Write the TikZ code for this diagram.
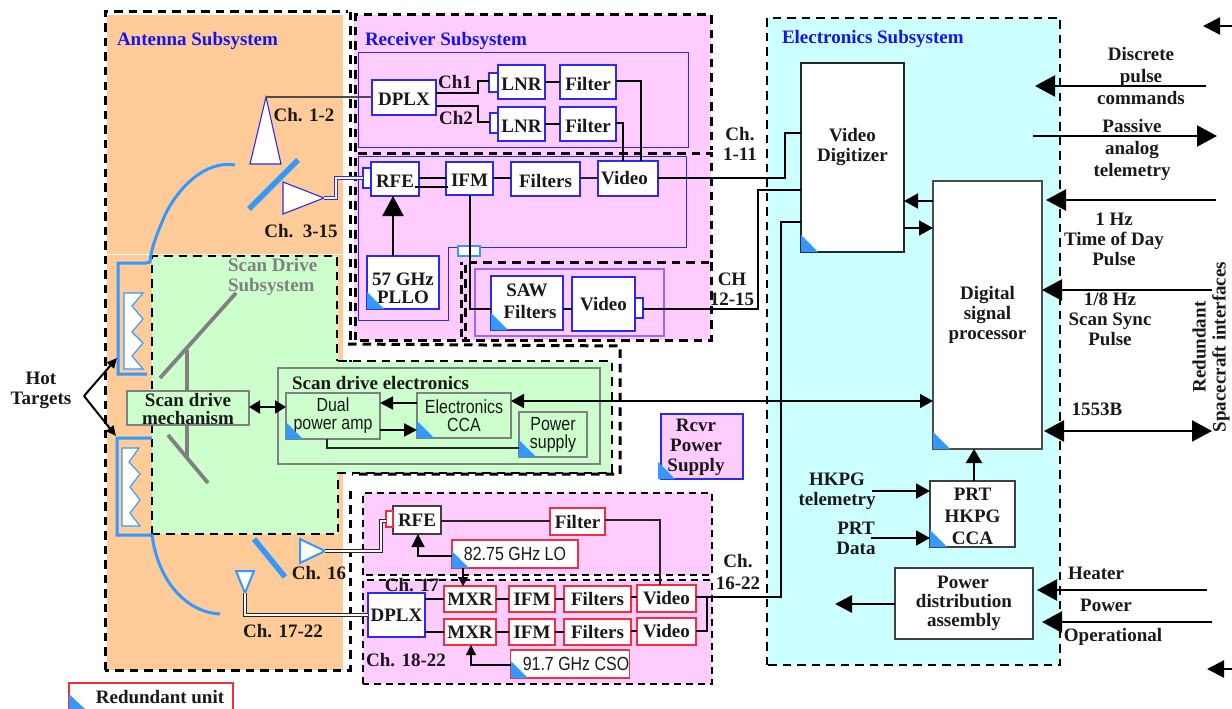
\documentclass[tikz,border=0pt]{standalone}
\usepackage{fontspec}
\setmainfont{Liberation Serif}
\newfontfamily\narrowfont[FakeStretch=0.84]{Liberation Sans}
\usetikzlibrary{arrows.meta}
\definecolor{orangebg}{HTML}{FFCC99}
\definecolor{pinkbg}{HTML}{FFCCFF}
\definecolor{greenbg}{HTML}{CCFFCC}
\definecolor{cyanbg}{HTML}{CCFFFF}
\definecolor{skyb}{HTML}{3399FF}
\definecolor{lilac}{HTML}{9966FF}
\definecolor{bluet}{HTML}{1414F0}
\definecolor{blueb}{HTML}{2A2AF0}
\definecolor{redb}{HTML}{F03040}
\definecolor{greyb}{HTML}{808080}
\tikzset{
  x=1pt,y=-1pt,
  lab/.style={font=\fontsize{19}{20}\selectfont\bfseries,inner sep=0pt,outer sep=0pt,align=center,text=black!90},
  title/.style={lab,text=bluet},
  sanslab/.style={font=\fontsize{19}{18}\narrowfont,align=center,text=black!90},
  dbox/.style={draw=black,line width=3pt,dash pattern=on 8.5pt off 6pt},
  dboxthin/.style={draw=black,line width=2.2pt,dash pattern=on 7pt off 5pt},
  bluebox/.style={draw=blueb,line width=1.2pt,fill=white,lab},
  redbox/.style={draw=redb,line width=1.3pt,fill=white,lab},
  darkbox/.style={draw=black!75,line width=1.3pt,fill=white,lab},
  greybox/.style={draw=greyb,line width=1.4pt,fill=greenbg,sanslab},
  wire/.style={draw=black,line width=2.4pt},
  thinwire/.style={draw=black!85,line width=1.5pt},
  bigarrow/.style={draw=black,line width=2.2pt,-{Triangle[length=20pt,width=21pt]}},
  midarrow/.style={draw=black,line width=1.8pt,-{Triangle[length=14pt,width=15pt]}},
  smallarrow/.style={draw=black,line width=1.4pt,-{Triangle[length=10pt,width=11pt]}},
  mirror/.style={draw=skyb,line width=5.5pt},
  arcline/.style={draw=skyb,line width=3pt},
  scanpart/.style={draw=greyb,line width=3.8pt},
  horn/.style={draw=blueb,line width=1.1pt,fill=white},
  hornb/.style={draw=skyb,line width=2pt,fill=white},
  target/.style={draw=skyb,line width=1.1pt,fill=white},
  dualdark/.style={draw=black!85,line width=3.4pt},
  dualblue/.style={draw=blueb,line width=3.4pt},
  dualcore/.style={draw=white,line width=1.3pt},
}
\newcommand\blk[7]{%
  \pgfmathsetmacro\bw{#4-#2}\pgfmathsetmacro\bh{#5-#3}%
  \pgfmathsetmacro\bx{(#2+#4)/2}\pgfmathsetmacro\by{(#3+#5)/2}%
  \node[inner sep=0pt,outer sep=0pt,minimum width=\bw pt,minimum height=\bh pt,#6] (#1) at (\bx,\by) {#7};}
\newcommand\ctri[1]{\fill[skyb] ([yshift=17pt]#1.south west) -- (#1.south west) -- ([xshift=17pt]#1.south west) -- cycle;}
\newcommand\dn[2][2pt]{\raisebox{-#1}[\height][\depth]{#2}}
\begin{document}
\begin{tikzpicture}
\useasboundingbox (0,0) rectangle (1232,709);
% ---- backgrounds
\fill[orangebg] (107,15) rectangle (343,670);
\draw[white,line width=.8pt] (107,254) -- (343,254);
\draw[dbox] (105,670) -- (105,12) -- (348,12);
\draw[dbox] (350,12) -- (350,670) -- (105,670);
\fill[greenbg] (152,256) -- (338,256) -- (338,362) -- (612,362) -- (612,472) -- (338,472) -- (338,534) -- (152,534) -- cycle;
\draw[dbox,line width=2.4pt] (152,534) -- (152,256) -- (337,256) -- (337,361);
\draw[dbox,line width=2.4pt] (338,361) -- (612,361) -- (612,473) -- (338,473) -- (338,534) -- (152,534);
\fill[white] (345,342) rectangle (622,360);
\fill[white] (345,474) rectangle (622,490);
\fill[white] (613,345) rectangle (622,476);
\draw[dbox] (348,344) -- (620,346) -- (620,474) -- (352,474);
\fill[pinkbg] (354,15) rectangle (711,340);
\draw[dbox] (355,340) -- (355,15) -- (711,15) -- (711,150);
\draw[dbox] (358,153) -- (711,153) -- (711,262) -- (465,262) -- (465,340);
\draw[dbox,dash phase=6pt] (461,262) -- (461,340);
\draw[dbox] (711,262) -- (711,340) -- (355,340);
\fill[pinkbg] (363,493) rectangle (712,575);
\draw[dboxthin] (363,575) -- (363,493) -- (712,493) -- (712,575) -- cycle;
\fill[pinkbg] (363,580) rectangle (712,684);
\draw[dboxthin] (363,684) -- (363,580) -- (712,580) -- (712,684) -- cycle;
\fill[cyanbg] (768,18) rectangle (1060,665);
\draw[dbox,line width=2.4pt] (767,665) -- (767,18) -- (1060,18) -- (1060,665) -- cycle;
% ---- group outlines
\node[inner sep=0pt,minimum width=330pt,minimum height=94pt,draw=blueb,line width=1pt] (recvtop) at (523,100) {};
\draw[blueb,line width=1pt] (358,156) -- (686,156) -- (686,247) -- (448,247) -- (448,320) -- (358,320) -- cycle;
\blk{sawgroup}{475}{269}{664}{336}{draw=lilac,line width=2.2pt}{}
% ---- titles
\node[title,anchor=west] (tant) at (117,41) {Antenna Subsystem};
\node[title,anchor=west] (trec) at (365,41) {Receiver Subsystem};
\node[title,anchor=west] (tele) at (782,39) {Electronics Subsystem};
\node[lab,text=greyb,align=left,anchor=west] (tscan) at (228,277) {Scan Drive\\Subsystem};
% ---- receiver blocks
\blk{dplxA}{372}{80}{436}{115}{bluebox}{\dn{DPLX}}
\blk{lnrA}{498}{65}{545}{99}{bluebox}{\dn{LNR}}
\blk{lnrAi}{489}{73}{498}{92}{bluebox}{}
\blk{filtA}{560}{65}{616}{99}{bluebox}{\dn{Filter}}
\blk{lnrB}{498}{107}{545}{141}{bluebox}{\dn{LNR}}
\blk{lnrBi}{490}{113}{498}{133}{bluebox}{}
\blk{filtB}{560}{107}{616}{141}{bluebox}{\dn{Filter}}
\blk{rfeA}{371}{162}{419}{196}{bluebox}{\dn{RFE}}
\blk{rfeAi}{363}{168}{371}{188}{bluebox}{}
\blk{ifmA}{446}{162}{493}{195}{bluebox}{\dn{IFM}}
\blk{filtsA}{511}{162}{580}{196}{bluebox}{\dn{Filters}}
\blk{vidA}{598}{161}{658}{196}{bluebox}{\hspace*{-7pt}Video}
\blk{pllo}{367}{256}{439}{309}{bluebox}{\dn[6pt]{\parbox{70pt}{\centering\fontsize{19}{18}\selectfont 57 GHz\\PLLO}}}
\blk{split}{458}{246}{480}{256}{draw=skyb,fill=white,line width=1.4pt}{}
\blk{saw}{491}{276}{563}{330}{bluebox,font=\fontsize{19}{22}\selectfont\bfseries}{\raisebox{2pt}[\height][\depth]{\parbox{70pt}{\centering SAW\\\hspace*{6pt}Filters}}}
\blk{vidB}{572}{277}{635}{331}{bluebox}{Video}
\blk{vidBi}{635}{298}{643}{318}{bluebox}{}
\blk{rcvr}{661}{414}{743}{479}{draw=blueb,fill=pinkbg,line width=1.2pt}{}
\node[lab] (rcvrt) at (696,447) {Rcvr\\Power\\Supply};
% ---- electronics blocks
\blk{vdig}{801}{63}{904}{252}{darkbox,draw=black!85}{\raisebox{10.5pt}[\height][\depth]{\parbox{90pt}{\centering Video\\Digitizer}}}
\blk{dsp}{933}{181}{1042}{449}{darkbox,draw=black!70}{Digital\\signal\\processor}
\blk{prt}{930}{481}{1015}{547}{darkbox,font=\fontsize{19}{22}\selectfont\bfseries}{\dn{\parbox{80pt}{\centering PRT\\HKPG\\CCA}}}
\blk{pda}{895}{568}{1033}{639}{darkbox,font=\fontsize{19}{19}\selectfont\bfseries}{\hspace*{-2pt}Power\\distribution\\assembly}
% ---- bottom receiver blocks
\blk{rfeB}{393}{506}{441}{534}{darkbox}{RFE}
\blk{rfeBi}{386}{511}{393}{527}{redbox}{}
\blk{filtC}{550}{508}{605}{535}{redbox}{Filter}
\blk{lo}{452}{540}{578}{568}{redbox,sanslab}{82.75 GHz LO}
\blk{dplxB}{368}{593}{425}{637}{bluebox}{DPLX}
\blk{mxrA}{444}{586}{496}{612}{redbox}{MXR}
\blk{ifmB}{509}{586}{555}{612}{redbox}{IFM}
\blk{filtsB}{564}{586}{631}{612}{redbox}{Filters}
\blk{vidC}{637}{585}{696}{612}{redbox}{Video}
\blk{mxrB}{444}{619}{496}{645}{redbox}{MXR}
\blk{ifmC}{509}{619}{555}{645}{redbox}{IFM}
\blk{filtsC}{564}{619}{631}{645}{redbox}{Filters}
\blk{vidD}{637}{618}{696}{645}{redbox}{Video}
\blk{cso}{511}{650}{629}{678}{redbox,sanslab}{\hspace*{12pt}91.7 GHz CSO}
% ---- scan drive blocks
\blk{sde}{278}{368}{600}{464}{draw=greyb,line width=2pt}{}
\node[lab,anchor=west] (tsde) at (292,383) {Scan drive electronics};
\blk{amp}{286}{393}{380}{439}{greybox}{Dual\\power amp}
\blk{eca}{417}{393}{511}{438}{greybox}{Electronics\\CCA}
\blk{psu}{519}{412}{587}{457}{greybox}{Power\\supply}
% ---- reflectors, horns and targets
\draw[arcline] (235,165) .. controls (205,160) and (178,188) .. (165,215) .. controls (155,238) and (151,250) .. (150,262) -- (146,263) -- (118,263) -- (118,374) -- (147,374);
\draw[arcline] (152,438) -- (117,438) -- (117,535) -- (152,535) .. controls (158,580) and (185,612) .. (220,614);
\draw[mirror] (298,160) -- (249,209);
\draw[mirror] (254,539) -- (285,577);
\coordinate (hornAtip) at (266,97);
\draw[horn] (hornAtip) -- (281,164) -- (250,164) -- cycle;
\coordinate (hornBtip) at (324,198);
\draw[horn] (hornBtip) -- (283,214) -- (283,182) -- cycle;
\coordinate (hornCtip) at (325,551);
\draw[hornb] (hornCtip) -- (300,563) -- (300,539) -- cycle;
\coordinate (hornDtip) at (245,593);
\draw[hornb] (hornDtip) -- (236,571) -- (254,571) -- cycle;
\draw[target] (124,293) -- (143,293) -- (132,306) -- (143,319) -- (132,332) -- (143,343) -- (132,356) -- (143,369) -- (124,369) -- cycle;
\draw[target] (122,448) -- (139,448) -- (129,462) -- (140,474) -- (130,487) -- (140,500) -- (130,513) -- (140,526) -- (122,526) -- cycle;
\draw[scanpart] (160,378) -- (236,293);
\draw[scanpart] (168,435) -- (208,483);
\coordinate (scanhi) at (187,350);
\coordinate (scanlo) at (187,457);
\draw[scanpart] (scanhi) -- (scanlo);
\blk{sdm}{127}{391}{249}{425}{draw=greyb,line width=1.2pt,fill=greenbg,lab,font=\fontsize{19}{18}\selectfont\bfseries}{\dn[1pt]{\parbox{110pt}{\centering Scan drive\\mechanism}}}
\draw[line width=2.2pt,black,{Triangle[length=11pt,width=13pt]}-{Triangle[length=11pt,width=13pt]}] (sdm.east |- 0,407) -- (amp.west |- 0,407);
% ---- hot targets
\node[lab] (hot) at (41,390) {Hot\\Targets};
\coordinate (hotv) at (84,396);
\coordinate (hotA) at (117,358);
\coordinate (hotB) at (116,436);
\draw[line width=2pt,black,-{Triangle[length=10pt,width=9pt]}] (hotv) -- (hotA);
\draw[line width=2pt,black,-{Triangle[length=10pt,width=9pt]}] (hotv) -- (hotB);
% ---- receiver wires
\draw[draw=black!70,line width=2.4pt] (hornAtip) -- (dplxA.west |- hornAtip);
\draw[dualblue] (hornBtip) -- (336,198) -- (336,178) -- (rfeAi.west |- 0,178);
\draw[dualcore] (hornBtip) -- (336,198) -- (336,178) -- (rfeAi.west |- 0,178);
\draw[wire] (dplxA.east |- 0,93) -- (478,93) -- (478,81) -- (lnrAi.west |- 0,81);
\draw[wire] (dplxA.east |- 0,106) -- (478,106) -- (478,122) -- (lnrBi.west |- 0,122);
\draw[wire] (lnrA.east |- filtA.west) -- (filtA.west);
\draw[wire] (lnrB.east |- filtB.west) -- (filtB.west);
\draw[wire] (filtA.east |- 0,81) -- (641,81) -- (vidA.north -| 641,0);
\draw[wire] (filtB.east |- 0,123) -- (623,123) -- (vidA.north -| 623,0);
\draw[wire] (rfeA.east |- 0,178) -- (ifmA.west |- 0,178);
\draw[wire] ([xshift=-4pt]rfeA.east |- 0,187) -- ([xshift=2pt]ifmA.west |- 0,187);
\draw[wire] (ifmA.east |- 0,178) -- (filtsA.west |- 0,178);
\draw[thinwire] (filtsA.east |- 0,178) -- (vidA.west |- 0,178);
\draw[wire] (vidA.east |- 0,178) -- (785,178) -- (785,133) -- (vdig.west |- 0,133);
\draw[line width=2.2pt,-{Triangle[length=20pt,width=21pt]}] (pllo.north -| 393,0) -- (rfeA.south -| 393,0);
\draw[wire] (ifmA.south -| 470,0) -- (470,309) -- (saw.west |- 0,309);
\draw[wire] (saw.east |- 0,309) -- (vidB.west |- 0,309);
\draw[wire] (vidBi.east |- 0,309) -- (758,309) -- (758,190) -- (vdig.west |- 0,190);
% ---- bottom receiver wires
\draw[dualdark] (hornCtip) -- (381,551) -- (381,521) -- (rfeBi.west |- 0,521);
\draw[dualcore] (hornCtip) -- (381,551) -- (381,521) -- (rfeBi.west |- 0,521);
\draw[dualdark] (hornDtip) -- (245,615) -- (dplxB.west |- 0,615);
\draw[dualcore] (hornDtip) -- (245,615) -- (dplxB.west |- 0,615);
\draw[thinwire] (rfeB.east |- 0,521) -- (filtC.west |- 0,521);
\draw[thinwire] (filtC.east |- 0,520) -- (660,520) -- (vidC.north -| 660,0);
\draw[smallarrow,-{Triangle[length=13pt,width=13pt]}] (lo.west |- 0,556) -- (418,556) -- (rfeB.south -| 418,0);
\draw[smallarrow,-{Triangle[length=9pt,width=10pt]}] (lo.south -| 463,0) -- (mxrA.north -| 463,0);
\draw[smallarrow,-{Triangle[length=10pt,width=10pt]}] (cso.west |- 0,665) -- (471,665) -- (mxrB.south -| 471,0);
\foreach \a/\b/\yy in {mxrA/ifmB/599,ifmB/filtsB/599,mxrB/ifmC/632,ifmC/filtsC/632}
  \draw[wire,line width=1.8pt] (\a.east |- 0,\yy) -- (\b.west |- 0,\yy);
\draw[wire,line width=1.8pt] (dplxB.east |- mxrA.west) -- (mxrA.west);
\draw[wire,line width=1.8pt] (dplxB.east |- mxrB.west) -- (mxrB.west);
\draw[wire,line width=1.4pt] (filtsB.east |- 0,597) -- (vidC.west |- 0,597);
\draw[wire,line width=1.4pt] (filtsC.east |- 0,631) -- (vidD.west |- 0,631);
\draw[wire] (vidD.east |- 0,631) -- (707,631) -- (707,597);
\draw[wire] (vidC.east |- 0,597) -- (781,597) -- (781,222) -- (vdig.west |- 0,222);
% ---- scan electronics wires
\draw[midarrow,-{Triangle[length=13pt,width=13pt]}] (eca.west |- 0,403) -- (amp.east |- 0,403);
\draw[midarrow,line width=2.2pt,-{Triangle[length=13pt,width=13pt]}] (amp.east |- 0,430) -- (eca.west |- 0,430);
\draw[thinwire] (327,439) -- (327,448) -- (psu.west |- 0,448);
\draw[line width=1.8pt,black,{Triangle[length=13pt,width=14pt]}-{Triangle[length=13pt,width=14pt]}] (eca.east |- 0,401) -- (dsp.west |- 0,401);
% ---- electronics wires
\draw[midarrow] (dsp.west |- 0,201) -- (vdig.east |- 0,201);
\draw[midarrow] (vdig.east |- 0,228) -- (dsp.west |- 0,228);
\draw[midarrow,line width=2.4pt,-{Triangle[length=14pt,width=16pt]}] (prt.north -| 974,0) -- (dsp.south -| 974,0);
\node[lab] (hkpg) at (837,491) {HKPG\\telemetry};
\node[lab] (prtd) at (856,538) {PRT\\Data};
\coordinate (hkpgend) at (872,491);
\coordinate (prtend) at (871,538);
\draw[midarrow] (hkpgend) -- (prt.west |- hkpgend);
\draw[midarrow] (prtend) -- (prt.west |- prtend);
\coordinate (pdaout) at (835,604);
\draw[bigarrow,line width=2.8pt,-{Triangle[length=17pt,width=17pt]}] (pda.west |- pdaout) -- (pdaout);
% ---- spacecraft interfaces
\foreach \sname/\sx/\sy/\ex in {disc/1206/86/1035,onehz/1216/200/1046,eighth/1212/290/1042,heat/1207/590/1037,oper/1212/622/1042}{
  \coordinate (\sname a) at (\sx,\sy);
  \coordinate (\sname b) at (\ex,\sy);
  \draw[bigarrow] (\sname a) -- (\sname b);
}
\coordinate (passa) at (1033,136);
\coordinate (passb) at (1217,136);
\draw[bigarrow] (passa) -- (passb);
\coordinate (busa) at (1044,431);
\coordinate (busb) at (1212,431);
\draw[line width=2.2pt,black,{Triangle[length=20pt,width=21pt]}-{Triangle[length=20pt,width=21pt]}] (busa) -- (busb);
\coordinate (tra) at (1232,26);
\coordinate (trb) at (1203,26);
\draw[bigarrow,-{Triangle[length=17pt,width=17pt]}] (tra) -- (trb);
\coordinate (bra) at (1232,669);
\coordinate (brb) at (1207,669);
\draw[bigarrow,-{Triangle[length=17pt,width=17pt]}] (bra) -- (brb);
% ---- labels
\node[lab] (l1) at (304,115) {Ch. 1-2};
\node[lab] (l2) at (301,231) {Ch.\ \ 3-15};
\node[lab] (l3) at (455,82) {Ch1};
\node[lab] (l4) at (456,118) {Ch2};
\node[lab] (l5) at (740,144) {Ch.\\1-11};
\node[lab] (l6) at (732,289) {CH\\12-15};
\node[lab] (l7) at (319,573) {Ch. 16};
\node[lab] (l8) at (412,585) {Ch. 17};
\node[lab] (l9) at (283,631) {Ch. 17-22};
\node[lab] (l10) at (406,660) {Ch. 18-22};
\node[lab,font=\fontsize{19}{22}\selectfont\bfseries] (l11) at (738,572) {Ch.\\16-22};
\node[lab,font=\fontsize{19}{22}\selectfont\bfseries] (l12) at (1141,76) {Discrete\\pulse\\commands};
\node[lab,font=\fontsize{19}{22}\selectfont\bfseries] (l13) at (1132,150) {Passive\\analog\\telemetry};
\node[lab] (l14) at (1114,239) {1 Hz\\Time of Day\\Pulse};
\node[lab] (l15) at (1110,319) {1/8 Hz\\Scan Sync\\Pulse};
\node[lab] (l16) at (1097,409) {1553B};
\node[lab] (l17) at (1096,573) {Heater};
\node[lab] (l18) at (1106,605) {Power};
\node[lab] (l19) at (1113,637) {Operational};
\node[lab,rotate=90] (l20) at (1211,347) {Redundant\\Spacecraft interfaces};
% ---- redundant unit legend
\blk{legend}{69}{683}{233}{712}{draw=redb,line width=1.2pt,fill=white}{}
\node[lab] (legt) at (160,697) {Redundant unit};
\fill[skyb] (69,694) -- (69,709) -- (85,709) -- cycle;
% ---- corner marks
\ctri{pllo}\ctri{saw}\ctri{vdig}\ctri{dsp}\ctri{prt}\ctri{amp}\ctri{eca}\ctri{psu}\ctri{lo}\ctri{cso}
\fill[skyb] (658,462) -- (658,479) -- (675,479) -- cycle;
\end{tikzpicture}
\end{document}
